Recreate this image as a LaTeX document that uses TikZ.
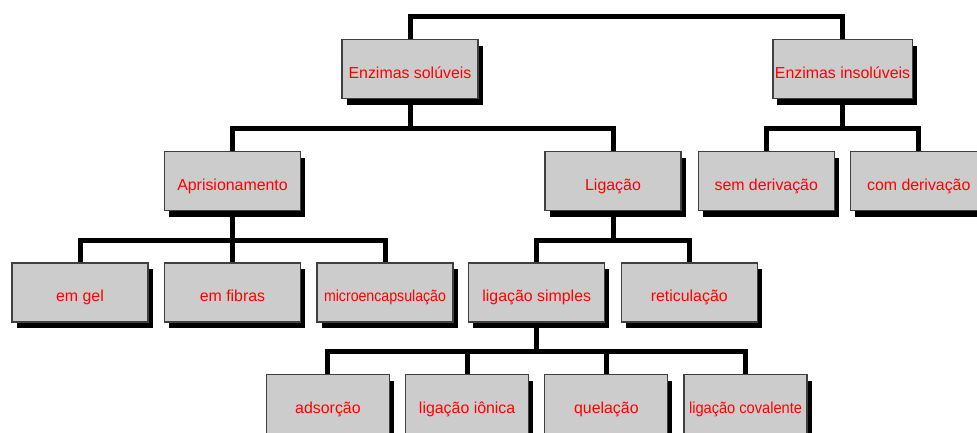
\documentclass[tikz,border=0pt]{standalone}
\usepackage{graphicx}
\usepackage{fontspec}
\setmainfont{Liberation Sans}
\usetikzlibrary{shadows}
\definecolor{boxgray}{RGB}{204,204,204}

\begin{document}
\begin{tikzpicture}
  [x=1pt, y=1pt,
   box/.style={draw=black!75, line width=1.2pt, fill=boxgray, text=red,
     minimum width=136pt, minimum height=59pt, inner sep=2pt,
     text height=18pt, text depth=0pt,
     font=\fontsize{15.9}{19}\selectfont,
     drop shadow={shadow xshift=4.5pt, shadow yshift=-6pt, fill=black, opacity=1}},
   every child node/.style={box},
   edge from parent/.style={draw, line width=5pt},
   level 1/.style={level distance=53pt, sibling distance=432.5pt,
     edge from parent path={(\tikzparentnode) -| (\tikzchildnode.north)}},
   level 2/.style={level distance=112pt, sibling distance=380.5pt,
     edge from parent path={(\tikzparentnode.south) -- ++(0,-29) -| (\tikzchildnode.north)}},
   level 3/.style={level distance=111.5pt, sibling distance=152.5pt},
   level 4/.style={level distance=111.5pt, sibling distance=139.2pt,
     every child node/.style={box, minimum width=123pt}}]
  \path[use as bounding box, clip] (0,0) rectangle (977,-432);
  \node[coordinate] (top) at (626.25,-16) {}
    child {node (sol) {Enzimas solúveis}
      child [xshift=12.75pt] {node (apr) {Aprisionamento}
        child {node (gel) {em gel}}
        child {node (fib) {em fibras}}
        child {node (mic) {\scalebox{0.89}[1]{microencapsulação}}}
      }
      child [xshift=12.75pt] {node (lig) {Ligação}
        child {node (sim) {ligação simples}
          child {node (ads) {adsorção}}
          child {node (ion) {ligação iônica}}
          child {node (que) {quelação}}
          child {node (cov) {\scalebox{0.92}[1]{ligação covalente}}}
        }
        child {node (ret) {reticulação}}
      }
    }
    child {node (ins) {Enzimas insolúveis}
      child [sibling distance=152.5pt] {node (sem) {sem derivação}}
      child [sibling distance=152.5pt] {node (com) {com derivação}}
    };

\end{tikzpicture}
\end{document}
